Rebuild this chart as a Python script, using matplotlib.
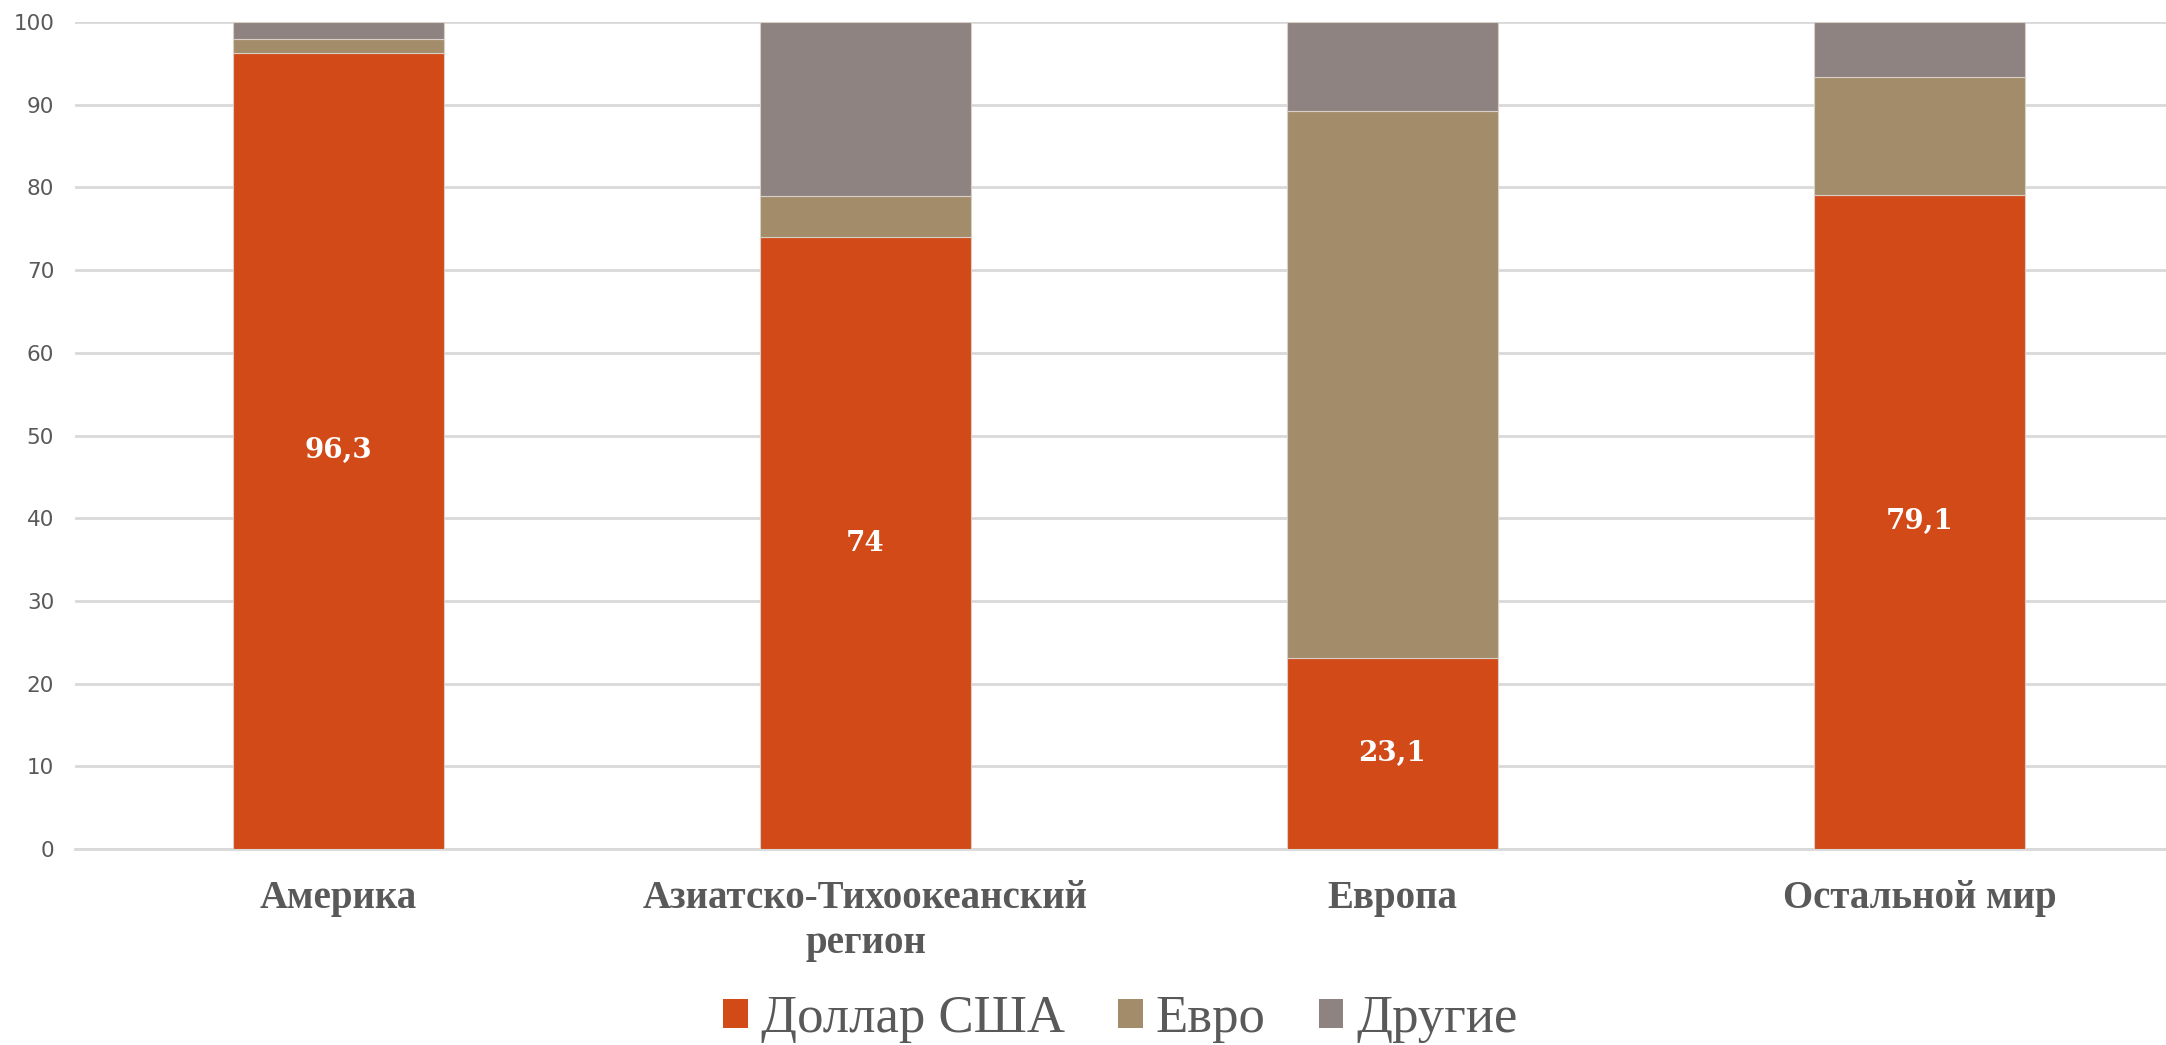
import numpy as np
import matplotlib.pyplot as plt

# shares of payments by currency, %
regions = ['Америка', 'Азиатско-Тихоокеанский\nрегион', 'Европа', 'Остальной мир']
usd = [96.3, 74.0, 23.1, 79.1]
eur = [1.6, 5.0, 66.1, 14.2]
other = [2.1, 21.0, 10.8, 6.7]
usd_labels = ['96,3', '74', '23,1', '79,1']
series_names = ['Доллар США', 'Евро', 'Другие']
colors = ['#d24a18', '#a38c6a', '#8f8382']

fig = plt.figure(figsize=(21.66, 10.45), dpi=100)
ax = fig.add_axes([75 / 2166, 196 / 1045, 1 - 75 / 2166, (849 - 22) / 1045])

x = np.arange(len(regions))
w = 0.4
edge = '#d8cfc6'
ax.bar(x, usd, w, color=colors[0], edgecolor=edge, linewidth=0.8, label=series_names[0], zorder=3)
ax.bar(x, eur, w, bottom=usd, color=colors[1], edgecolor=edge, linewidth=0.8, label=series_names[1], zorder=3)
bottom2 = np.array(usd) + np.array(eur)
ax.bar(x, other, w, bottom=bottom2, color=colors[2], edgecolor=edge, linewidth=0.8, label=series_names[2], zorder=3)

# value labels in the dollar segment
for xi, v, lab in zip(x, usd, usd_labels):
    ax.text(xi, v / 2, lab, ha='center', va='center', color='white',
            fontsize=20, fontweight='heavy', family='DejaVu Serif', zorder=4)

ax.set_xlim(-0.5, -0.5 + (2166 - 75) / 527)
ax.set_ylim(0, 100)
ax.set_yticks(range(0, 101, 10))
ax.yaxis.grid(True, color='#d9d9d9', linewidth=2, zorder=0)
ax.tick_params(axis='y', length=0, pad=15, labelsize=15.5, labelcolor='#595959')
for lab in ax.get_yticklabels():
    lab.set_family('DejaVu Sans')
ax.set_xticks(x)
ax.set_xticklabels(regions, fontsize=28, fontweight='bold', color='#595959',
                   family='Liberation Serif', linespacing=1.3)
ax.tick_params(axis='x', length=0, pad=22)
for s in ['top', 'right', 'left']:
    ax.spines[s].set_visible(False)
ax.spines['bottom'].set_color('#d9d9d9')
ax.spines['bottom'].set_linewidth(2)

leg = ax.legend(loc='center', bbox_to_anchor=(0.5, -0.206), ncol=3, frameon=False,
                prop={'family': 'Liberation Serif', 'size': 38},
                handlelength=0.47, handleheight=0.47, handletextpad=0.25, columnspacing=1.0)
for t in leg.get_texts():
    t.set_color('#595959')
for h in leg.legend_handles:
    h.set_edgecolor('none')

fig.savefig('out.png', dpi=100)
